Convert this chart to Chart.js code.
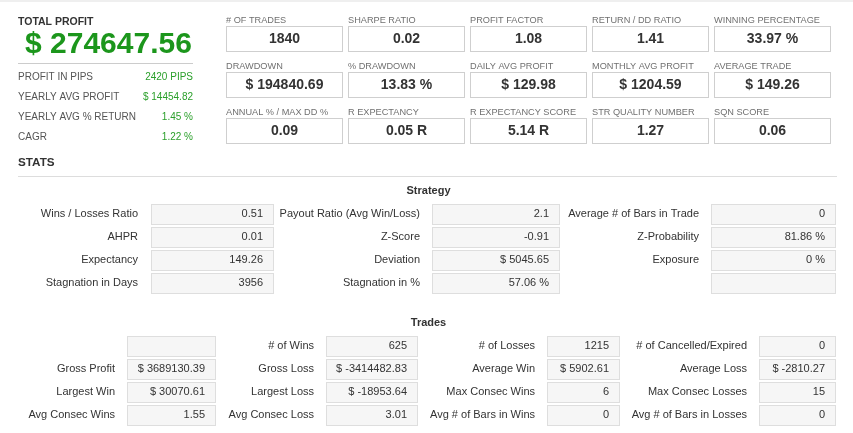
<!DOCTYPE html>
<html>
<head>
<meta charset="utf-8">
<script src="https://cdn.jsdelivr.net/npm/chart.js@4"></script>
<style>
  html, body { margin: 0; padding: 0; background: #fff; }
  #wrap { position: relative; width: 853px; height: 433px; }
</style>
</head>
<body>
<div id="wrap"><canvas id="statsChart"></canvas></div>
<script>
// Headline
const totalLabel = 'TOTAL PROFIT';
const totalValue = '$ 274647.56';

// Summary list under the headline
const summaryLabels = ['PROFIT IN PIPS', 'YEARLY AVG PROFIT', 'YEARLY AVG % RETURN', 'CAGR'];
const summaryValues = ['2420 PIPS', '$ 14454.82', '1.45 %', '1.22 %'];

// KPI tiles (3 rows of 5)
const kpiLabels = [
    '# OF TRADES', 'SHARPE RATIO', 'PROFIT FACTOR', 'RETURN / DD RATIO', 'WINNING PERCENTAGE',
    'DRAWDOWN', '% DRAWDOWN', 'DAILY AVG PROFIT', 'MONTHLY AVG PROFIT', 'AVERAGE TRADE',
    'ANNUAL % / MAX DD %', 'R EXPECTANCY', 'R EXPECTANCY SCORE', 'STR QUALITY NUMBER', 'SQN SCORE'
];
const kpiValues = [
    '1840', '0.02', '1.08', '1.41', '33.97 %',
    '$ 194840.69', '13.83 %', '$ 129.98', '$ 1204.59', '$ 149.26',
    '0.09', '0.05 R', '5.14 R', '1.27', '0.06'
];

// Strategy table (4 rows x 3 columns)
const strategyLabels = [
    ['Wins / Losses Ratio', 'Payout Ratio (Avg Win/Loss)', 'Average # of Bars in Trade'],
    ['AHPR', 'Z-Score', 'Z-Probability'],
    ['Expectancy', 'Deviation', 'Exposure'],
    ['Stagnation in Days', 'Stagnation in %', '']
];
const strategyValues = [
    ['0.51', '2.1', '0'],
    ['0.01', '-0.91', '81.86 %'],
    ['149.26', '$ 5045.65', '0 %'],
    ['3956', '57.06 %', '']
];

// Trades table (4 rows x 4 columns)
const tradesLabels = [
    ['', '# of Wins', '# of Losses', '# of Cancelled/Expired'],
    ['Gross Profit', 'Gross Loss', 'Average Win', 'Average Loss'],
    ['Largest Win', 'Largest Loss', 'Max Consec Wins', 'Max Consec Losses'],
    ['Avg Consec Wins', 'Avg Consec Loss', 'Avg # of Bars in Wins', 'Avg # of Bars in Losses']
];
const tradesValues = [
    ['', '625', '1215', '0'],
    ['$ 3689130.39', '$ -3414482.83', '$ 5902.61', '$ -2810.27'],
    ['$ 30070.61', '$ -18953.64', '6', '15'],
    ['1.55', '3.01', '0', '0']
];

const FONT = '"Liberation Sans", Arial, sans-serif';

function text(ctx, s, x, y, size, weight, color, align) {
    ctx.font = weight + ' ' + size + 'px ' + FONT;
    ctx.fillStyle = color;
    ctx.textAlign = align || 'left';
    ctx.textBaseline = 'middle';
    ctx.fillText(s, x, y);
}

function hline(ctx, x1, x2, y, color) {
    ctx.fillStyle = color;
    ctx.fillRect(x1, y, x2 - x1, 1);
}

function box(ctx, x, y, w, h, fill, stroke) {
    if (fill) {
        ctx.fillStyle = fill;
        ctx.fillRect(x, y, w, h);
    }
    ctx.strokeStyle = stroke;
    ctx.lineWidth = 1;
    ctx.strokeRect(x + 0.5, y + 0.5, w - 1, h - 1);
}

const dashboardPlugin = {
    id: 'dashboard',
    afterDraw(chart) {
        const ctx = chart.ctx;
        ctx.save();

        // faint top edge
        ctx.fillStyle = '#efefef';
        ctx.fillRect(0, 0, 853, 2);

        // headline
        text(ctx, totalLabel, 18, 22, 10.5, 'bold', '#333', 'left');
        text(ctx, totalValue, 25, 45, 30, 'bold', '#1c961c', 'left');
        hline(ctx, 18, 193, 63, '#cccccc');
        summaryLabels.forEach((l, i) => {
            const y = 77 + i * 20;
            text(ctx, l, 18, y, 10, 'normal', '#555', 'left');
            text(ctx, summaryValues[i], 193, y, 10, 'normal', '#2a9f2a', 'right');
        });

        // KPI tiles
        kpiLabels.forEach((l, i) => {
            const col = i % 5, row = Math.floor(i / 5);
            const x = 226 + col * 122, y = 26 + row * 46;
            text(ctx, l, x, y - 5.5, 9.2, 'normal', '#707070', 'left');
            box(ctx, x, y, 117, 26, null, '#cfcfcf');
            text(ctx, kpiValues[i], x + 58.5, y + 13.5, 14, 'bold', '#333', 'center');
        });

        // STATS header
        text(ctx, 'STATS', 18, 163, 11.7, 'bold', '#333', 'left');
        hline(ctx, 18, 837, 176, '#dddddd');

        // Strategy table
        text(ctx, 'Strategy', 428.5, 191, 11, 'bold', '#333', 'center');
        const sLabelRight = [138, 420, 699];
        const sBoxes = [[151, 123], [432, 128], [711, 125]];
        strategyLabels.forEach((row, r) => {
            const cy = 214 + r * 23;
            row.forEach((l, c) => {
                const [bx, bw] = sBoxes[c];
                if (l) text(ctx, l, sLabelRight[c], cy, 11, 'normal', '#333', 'right');
                box(ctx, bx, cy - 10, bw, 21, '#f6f6f6', '#dedede');
                if (strategyValues[r][c]) text(ctx, strategyValues[r][c], bx + bw - 11, cy, 11, 'normal', '#333', 'right');
            });
        });

        // Trades table
        text(ctx, 'Trades', 428.5, 323, 11, 'bold', '#333', 'center');
        const tLabelRight = [115, 314, 535, 747];
        const tBoxes = [[127, 89], [326, 92], [547, 73], [759, 77]];
        tradesLabels.forEach((row, r) => {
            const cy = 346 + r * 23;
            row.forEach((l, c) => {
                const [bx, bw] = tBoxes[c];
                if (l) text(ctx, l, tLabelRight[c], cy, 11, 'normal', '#333', 'right');
                box(ctx, bx, cy - 10, bw, 21, '#f6f6f6', '#dedede');
                if (tradesValues[r][c]) text(ctx, tradesValues[r][c], bx + bw - 11, cy, 11, 'normal', '#333', 'right');
            });
        });

        ctx.restore();
    }
};

const statsCtx = document.getElementById('statsChart');
new Chart(statsCtx, {
    type: 'bar',
    data: {
        labels: [],
        datasets: []
    },
    options: {
        responsive: true,
        maintainAspectRatio: false,
        animation: false,
        devicePixelRatio: 1,
        layout: { padding: 0 },
        plugins: {
            legend: { display: false },
            tooltip: { enabled: false }
        },
        scales: {
            x: { display: false },
            y: { display: false }
        }
    },
    plugins: [dashboardPlugin]
});
</script>
</body>
</html>
